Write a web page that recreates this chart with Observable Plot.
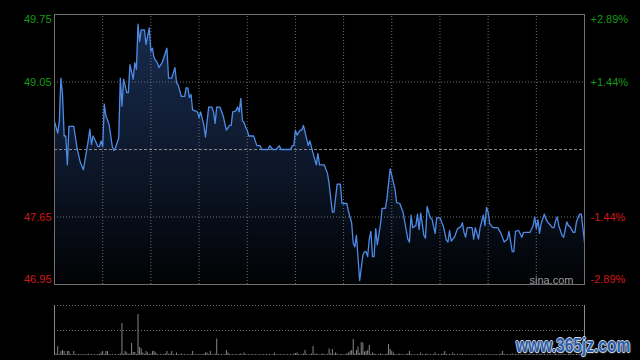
<!DOCTYPE html>
<html><head><meta charset="utf-8">
<script src="https://cdn.jsdelivr.net/npm/d3@7"></script>
<script src="https://cdn.jsdelivr.net/npm/@observablehq/plot@0.6"></script>
<style>
html,body{margin:0;padding:0;background:#000;}
#wrap{position:relative;width:640px;height:360px;background:#000;overflow:hidden;}
#main,#vol{position:absolute;left:0;}
#main{top:0;} #vol{top:290px;}
#wm{position:absolute;left:516px;top:333px;font:bold 21px 'Liberation Sans',Arial,sans-serif;color:#2c5da6;transform:scaleX(0.74);transform-origin:left top;white-space:nowrap;
text-shadow:1px 0 0 #cfd6e0,-1px 0 0 #cfd6e0,0 1px 0 #cfd6e0,0 -1px 0 #cfd6e0,1px 1px 2px #888;}
</style></head>
<body><div id="wrap"><div id="main"></div><div id="vol"></div><div id="wm">www.365jz.com</div></div>
<script>
// ---- data (HK session: 330 trading minutes, 09:30-12:00, 13:00-16:00) ----
const prevClose = 48.35;
const priceTicks = [49.75, 49.05, 47.65, 46.95];
const pctTicks = ["+2.89%", "+1.44%", "-1.44%", "-2.89%"];
const timeTicks = [30, 60, 90, 120, 150, 180, 210, 240, 270, 300];
const sessionMinutes = [0, 330];
const volTicks = [50, 100];

const minutes = [0,2,3,4,5,6,7,8,9,12,14,16,18,21,22,23,24,26,27,28,29,30,31,32,34,36,37,38,40,41,42,43,45,46,47,49,50,51,52,53,54,56,57,59,60,61,62,64,65,67,70,71,73,75,76,77,79,81,82,83,84,85,86,89,90,91,92,93,94,96,98,99,100,101,103,105,107,109,110,111,113,114,115,116,117,118,119,120,121,124,126,128,129,133,134,136,138,140,141,147,148,149,150,151,153,154,155,157,158,159,161,163,164,165,168,170,171,173,174,176,178,179,182,183,185,186,187,188,190,192,193,194,195,196,197,198,199,200,201,203,204,206,207,209,210,212,213,215,217,220,221,222,223,225,226,227,228,230,231,232,234,235,237,238,240,242,244,245,246,247,249,251,253,254,255,256,257,260,261,262,264,265,267,268,269,270,271,273,276,278,280,282,283,285,286,287,289,291,292,296,298,299,300,301,302,303,305,306,307,308,310,311,312,313,314,316,317,319,320,321,323,324,325,327,328,330];
const prices = [48.64,48.52,48.64,49.09,48.92,48.49,48.49,48.19,48.59,48.59,48.37,48.22,48.14,48.44,48.56,48.40,48.49,48.42,48.38,48.38,48.44,48.38,48.82,48.70,48.61,48.38,48.34,48.37,48.47,49.09,48.80,49.08,48.94,48.94,49.23,49.08,49.25,49.18,49.65,49.47,49.59,49.59,49.44,49.61,49.37,49.40,49.30,49.25,49.20,49.25,49.40,49.09,49.09,49.20,49.04,49.02,48.90,48.90,48.99,48.99,48.89,48.92,48.76,48.74,48.68,48.74,48.67,48.60,48.48,48.79,48.79,48.74,48.62,48.79,48.79,48.70,48.55,48.60,48.60,48.74,48.75,48.79,48.74,48.88,48.65,48.63,48.58,48.55,48.49,48.49,48.39,48.39,48.35,48.35,48.39,48.35,48.35,48.39,48.35,48.35,48.39,48.39,48.55,48.50,48.55,48.55,48.60,48.46,48.39,48.44,48.31,48.19,48.31,48.19,48.19,48.10,47.99,47.70,47.70,47.99,47.99,47.79,47.79,47.71,47.59,47.38,47.34,47.46,46.99,47.25,47.29,47.29,47.24,47.42,47.50,47.24,47.24,47.53,47.36,47.58,47.74,47.74,47.84,48.15,48.08,47.94,47.80,47.79,47.70,47.42,47.39,47.67,47.54,47.56,47.68,47.52,47.69,47.46,47.43,47.76,47.64,47.63,47.48,47.64,47.64,47.56,47.41,47.39,47.51,47.40,47.44,47.53,47.55,47.59,47.49,47.44,47.54,47.54,47.42,47.54,47.42,47.54,47.67,47.56,47.75,47.70,47.58,47.54,47.54,47.48,47.39,47.42,47.50,47.29,47.29,47.50,47.51,47.44,47.49,47.49,47.56,47.65,47.53,47.62,47.48,47.58,47.68,47.63,47.60,47.58,47.54,47.54,47.61,47.65,47.56,47.46,47.44,47.60,47.56,47.55,47.49,47.49,47.60,47.68,47.68,47.39];

// per-minute volume (relative units), index = minute
const volume = [
 13,3,18,2,8,10,8,2,8,8, 2,1,8,2,1,2,1,2,1,2, 1,3,1,2,1,2,1,2,2,5,
 8,2,8,8,2,1,2,1,2,1, 2,3,64,2,8,5,2,3,24,6, 6,2,82,16,13,5,2,8,5,2,
 3,8,8,5,2,1,2,1,2,3, 8,2,3,8,2,1,5,2,1,3, 1,2,1,2,1,2,8,1,2,1,
 2,1,2,2,5,5,2,8,2,1, 3,33,2,1,2,1,2,10,5,2, 1,2,1,2,1,2,3,1,5,2,
 1,2,1,2,1,2,1,1,2,1, 2,1,2,1,2,1,2,5,1,2, 1,2,1,2,1,2,1,2,1,3,
 4,5,2,1,2,3,10,2,1,2, 3,18,2,3,2,1,2,3,2,1, 2,13,3,12,2,5,3,1,2,2,
 1,2,3,5,8,10,32,3,10,17, 4,26,25,7,8,10,20,2,5,3, 2,1,2,3,2,1,2,3,22,12,
 8,5,2,1,2,3,1,2,1,2, 3,8,2,1,2,1,2,1,5,2, 1,2,3,1,2,1,2,5,1,2,
 1,2,3,8,2,1,2,1,5,2, 1,2,1,2,3,1,2,1,2,1, 2,1,2,1,2,3,1,2,1,2,
 1,2,1,2,1,2,1,2,3,8, 2,1,2,1,2,3,1,2,1,2, 1,2,1,2,1,2,3,1,2,1,
 2,1,2,3,1,2,1,2,1,2, 1,2,3,1,2,1,2,1,2,1, 2,3,1,2,1,2,1,2,3,2, 4
];

// ---- tables built from the arrays ----
const series = minutes.map((t, i) => ({t, p: prices[i]}));
const volRows = volume.map((v, t) => ({t, v}));
const tickRows = priceTicks.map((p, i) => ({p, pct: pctTicks[i]}));

const UP = "#139a13", DOWN = "#d01818";
const GRID = "#6e6e6e", FRAME = "#707070";
const FONT = "'Liberation Sans', Arial, sans-serif";

const gradDefs = () => {
  const defs = d3.create("svg:defs");
  const g = defs.append("linearGradient").attr("id", "areaGrad")
    .attr("x1", 0).attr("y1", 0).attr("x2", 0).attr("y2", 1);
  g.append("stop").attr("offset", "0%").attr("stop-color", "#182b4e");
  g.append("stop").attr("offset", "50%").attr("stop-color", "#0e192d");
  g.append("stop").attr("offset", "100%").attr("stop-color", "#010204");
  return defs.node();
};

function labelMarks(rows, anchor, dy) {
  const col = d => d.p >= prevClose ? UP : DOWN;
  return [
    Plot.text(rows, {x: 0, y: "p", text: d => d.p.toFixed(2), fill: col, textAnchor: "end", dx: -3, dy, lineAnchor: anchor}),
    Plot.text(rows, {x: 330, y: "p", text: "pct", fill: col, textAnchor: "start", dx: 6, dy, lineAnchor: anchor})
  ];
}

const main = Plot.plot({
  width: 640, height: 290,
  marginLeft: 54, marginRight: 56, marginTop: 14, marginBottom: 6,
  style: {background: "transparent", fontFamily: FONT, fontSize: "11px", overflow: "visible"},
  x: {domain: [0, 330], axis: null},
  y: {domain: [46.95, 49.75], axis: null},
  marks: [
    gradDefs,
    Plot.areaY(series, {x: "t", y1: 46.95, y2: "p", fill: "url(#areaGrad)"}),
    Plot.ruleY([priceTicks[1], priceTicks[2]], {stroke: GRID, strokeDasharray: "1,2"}),
    Plot.ruleX(timeTicks, {y1: 46.95, y2: 49.75, stroke: GRID, strokeDasharray: "1,2"}),
    Plot.ruleY([prevClose], {stroke: "#8a8a8a", strokeDasharray: "3,2"}),
    Plot.lineY(series, {x: "t", y: "p", stroke: "#4d8be6", strokeWidth: 1.3}),
    Plot.frame({stroke: FRAME}),
    ...labelMarks(tickRows.slice(0, 1), "top", 1),
    ...labelMarks(tickRows.slice(1, 3), "middle", 0),
    ...labelMarks(tickRows.slice(3), "bottom", -2),
    Plot.text(["sina.com"], {frameAnchor: "bottom-right", dx: -11, dy: -1, lineAnchor: "bottom", fill: "#9a9a9a", fontSize: 11})
  ]
});
document.getElementById("main").appendChild(main);

const vol = Plot.plot({
  width: 640, height: 70,
  marginLeft: 54, marginRight: 56, marginTop: 15, marginBottom: 5,
  style: {background: "transparent", fontFamily: FONT, fontSize: "11px", overflow: "visible"},
  x: {domain: [0, 330], axis: null},
  y: {domain: [0, 100], axis: null},
  marks: [
    Plot.ruleY(volTicks, {stroke: GRID, strokeDasharray: "1,2"}),
    Plot.ruleX(volRows, {x: "t", y1: 0, y2: "v", stroke: "#858585"}),
    Plot.ruleX(sessionMinutes, {y1: 0, y2: 100, stroke: "#8a8a8a"})
  ]
});
document.getElementById("vol").appendChild(vol);
</script>
</body></html>
